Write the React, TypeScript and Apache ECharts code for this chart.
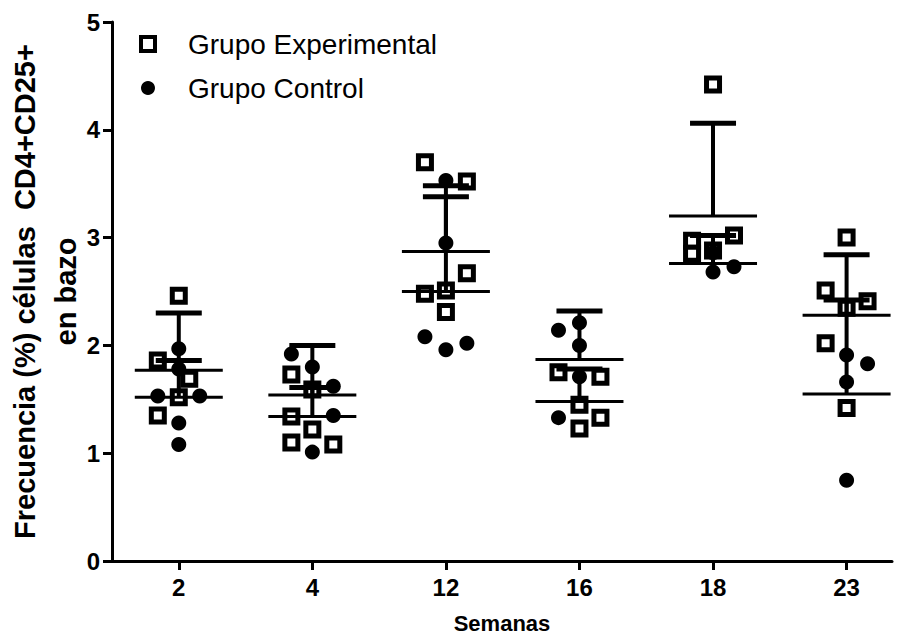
import React, { useEffect, useRef } from "react";
import * as echarts from "echarts";

// Weeks shown on the x axis
const semanas = ["2", "4", "12", "16", "18", "23"];
const yTicks = [0, 1, 2, 3, 4, 5];

// Individual measurements: [week index, value, column slot (-1 left, 0 centre, 1 right)]
const grupoExperimental: [number, number, number][] = [
  [0, 2.46, 0], [0, 1.86, -1], [0, 1.69, 0.5], [0, 1.52, 0], [0, 1.35, -1],
  [1, 1.73, -1], [1, 1.59, 0], [1, 1.34, -1], [1, 1.22, 0], [1, 1.10, -1], [1, 1.08, 1],
  [2, 3.70, -1], [2, 3.52, 1], [2, 2.67, 1], [2, 2.51, 0], [2, 2.48, -1], [2, 2.31, 0],
  [3, 1.75, -1], [3, 1.71, 1], [3, 1.45, 0], [3, 1.33, 1], [3, 1.23, 0],
  [4, 4.42, 0], [4, 3.02, 1], [4, 2.97, -1], [4, 2.88, 0], [4, 2.85, -1],
  [5, 3.00, 0], [5, 2.51, -1], [5, 2.41, 1], [5, 2.35, 0], [5, 2.02, -1], [5, 1.42, 0],
];

const grupoControl: [number, number, number][] = [
  [0, 1.97, 0], [0, 1.78, 0], [0, 1.53, -1], [0, 1.53, 1], [0, 1.28, 0], [0, 1.08, 0],
  [1, 1.92, -1], [1, 1.80, 0], [1, 1.62, 1], [1, 1.35, 1], [1, 1.01, 0],
  [2, 3.53, 0], [2, 2.95, 0], [2, 2.08, -1], [2, 2.02, 1], [2, 1.96, 0],
  [3, 2.21, 0], [3, 2.14, -1], [3, 2.00, 0], [3, 1.71, 0], [3, 1.33, -1],
  [4, 2.86, 0], [4, 2.73, 1], [4, 2.68, 0],
  [5, 1.91, 0], [5, 1.83, 1], [5, 1.66, 0], [5, 0.75, 0],
];

// Mean and mean + SD per week
const expMedia = [1.77, 1.34, 2.87, 1.48, 3.2, 2.28];
const expSuperior = [2.3, 1.61, 3.48, 1.78, 4.06, 2.84];
const ctrlMedia = [1.52, 1.54, 2.5, 1.87, 2.76, 1.55];
const ctrlSuperior = [1.86, 2.0, 3.38, 2.32, 3.02, 2.42];

const FONT = "'Liberation Sans', Arial, Helvetica, sans-serif";
const SLOT = 0.157;

function App() {
  const ref = useRef<HTMLDivElement>(null);

  useEffect(() => {
    if (!ref.current) return;
    const chart = echarts.init(ref.current, null, { renderer: "svg" });

    const toXY = (pts: [number, number, number][]) =>
      pts.map(([i, v, s]) => [i + s * SLOT, v]);

    const barData = (media: number[], sup: number[]) =>
      media.map((m, i) => [i, m, sup[i]]);

    const renderBar = (params: any, api: any) => {
      const x = api.value(0);
      const pm = api.coord([x, api.value(1)]);
      const pu = api.coord([x, api.value(2)]);
      return {
        type: "group",
        children: [
          {
            type: "line",
            shape: { x1: pm[0] - 44, y1: pm[1], x2: pm[0] + 44, y2: pm[1] },
            style: { stroke: "#000", lineWidth: 3 },
          },
          {
            type: "line",
            shape: { x1: pm[0], y1: pm[1], x2: pu[0], y2: pu[1] },
            style: { stroke: "#000", lineWidth: 4 },
          },
          {
            type: "line",
            shape: { x1: pu[0] - 23, y1: pu[1], x2: pu[0] + 23, y2: pu[1] },
            style: { stroke: "#000", lineWidth: 5 },
          },
        ],
      };
    };

    chart.setOption({
      animation: false,
      backgroundColor: "#fff",
      grid: { left: 112, right: 12, top: 22, bottom: 78, outerBoundsMode: "none" },
      legend: {
        orient: "vertical",
        left: 134,
        top: 25,
        itemWidth: 14,
        itemHeight: 14,
        itemGap: 16,
        textStyle: {
          fontFamily: FONT,
          fontSize: 28,
          color: "#000",
          padding: [0, 0, 0, 28],
        },
        data: [
          {
            name: "Grupo Experimental",
            itemStyle: { color: "#fff", borderColor: "#000", borderWidth: 4 },
          },
          { name: "Grupo Control", itemStyle: { color: "#000" } },
        ],
      },
      xAxis: {
        type: "value",
        min: -0.5,
        max: 5.34,
        name: "Semanas",
        nameLocation: "middle",
        nameGap: 51,
        nameMoveOverlap: false,
        nameTextStyle: { fontFamily: FONT, fontSize: 22, fontWeight: "bold", color: "#000" },
        splitLine: { show: false },
        axisLine: { show: true, onZero: false, lineStyle: { color: "#000", width: 3 } },
        axisTick: {
          show: true,
          length: 9,
          lineStyle: { color: "#000", width: 3 },
          customValues: semanas.map((_, i) => i),
        },
        axisLabel: {
          fontFamily: FONT,
          fontSize: 24,
          fontWeight: "bold",
          color: "#000",
          margin: 14,
          customValues: semanas.map((_, i) => i),
          formatter: (v: number) => semanas[Math.round(v)] ?? "",
        },
      },
      yAxis: {
        type: "value",
        min: 0,
        max: 5,
        interval: 1,
        name: "Frecuencia (%) células  CD4+CD25+\nen bazo",
        nameLocation: "middle",
        nameGap: 26,
        nameMoveOverlap: false,
        nameTextStyle: {
          fontFamily: FONT,
          fontSize: 29,
          fontWeight: "bold",
          color: "#000",
          lineHeight: 41,
        },
        splitLine: { show: false },
        axisLine: { show: true, onZero: false, lineStyle: { color: "#000", width: 3 } },
        axisTick: { show: true, length: 9, lineStyle: { color: "#000", width: 3 } },
        axisLabel: {
          fontFamily: FONT,
          fontSize: 24,
          fontWeight: "bold",
          color: "#000",
          margin: 12,
          formatter: (v: number) => (yTicks.includes(v) ? String(v) : ""),
        },
      },
      series: [
        {
          name: "Grupo Experimental",
          type: "scatter",
          symbol: "rect",
          symbolSize: 13,
          itemStyle: { color: "#fff", borderColor: "#000", borderWidth: 5, opacity: 1 },
          data: toXY(grupoExperimental),
          z: 2,
        },
        {
          name: "Grupo Control",
          type: "scatter",
          symbol: "circle",
          symbolSize: 15,
          itemStyle: { color: "#000", opacity: 1 },
          data: toXY(grupoControl),
          z: 3,
        },
        {
          name: "expBarras",
          type: "custom",
          renderItem: renderBar,
          encode: { x: 0, y: [1, 2] },
          data: barData(expMedia, expSuperior),
          z: 4,
          silent: true,
        },
        {
          name: "ctrlBarras",
          type: "custom",
          renderItem: renderBar,
          encode: { x: 0, y: [1, 2] },
          data: barData(ctrlMedia, ctrlSuperior),
          z: 4,
          silent: true,
        },
      ],
    });

    return () => chart.dispose();
  }, []);

  return (
    <div
      ref={ref}
      style={{ position: "fixed", left: 0, top: 0, width: 904, height: 639, background: "#fff" }}
    />
  );
}

export default App;
